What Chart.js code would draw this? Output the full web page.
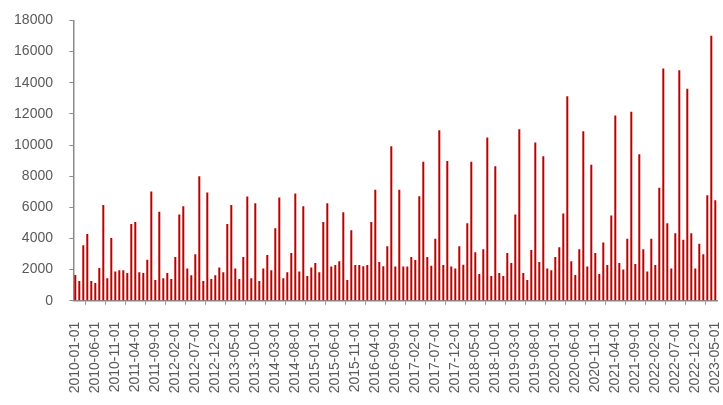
<!DOCTYPE html>
<html>
<head>
<meta charset="utf-8">
<script src="https://cdn.jsdelivr.net/npm/chart.js@4/dist/chart.umd.min.js"></script>
<style>
html,body{margin:0;padding:0;background:#fff;}
#wrap{width:723px;height:405px;}
</style>
</head>
<body>
<div id="wrap"><canvas id="c" width="723" height="405"></canvas></div>
<script>
// Categories: monthly dates 2010-01-01 .. 2023-05-01
const startYear = 2010, startMonth = 1, monthCount = 161;
const categories = [];
for (let i = 0; i < monthCount; i++) {
  const y = startYear + Math.floor((startMonth - 1 + i) / 12);
  const m = ((startMonth - 1 + i) % 12) + 1;
  categories.push(y + '-' + String(m).padStart(2, '0') + '-01');
}

// Series values
const values = [
  1650,1260,3570,4280,1260,1130,2100,6140,1450,4020,1880,1950,
  1950,1780,4920,5050,1820,1780,2630,7010,1330,5710,1450,1780,
  1390,2800,5540,6070,2070,1630,2990,8000,1260,6950,1390,1630,
  2140,1820,4920,6140,2070,1390,2800,6690,1450,6260,1260,2070,
  2930,1950,4660,6630,1450,1820,3060,6880,1880,6070,1580,2140,
  2420,1820,5050,6260,2200,2290,2540,5690,1330,4530,2290,2290,
  2220,2290,5050,7120,2480,2220,3490,9920,2200,7120,2200,2200,
  2800,2610,6710,8920,2800,2250,3980,10950,2290,8980,2200,2070,
  3490,2310,4980,8920,3120,1710,3310,10480,1580,8640,1780,1580,
  3060,2420,5540,11010,1780,1330,3250,10160,2480,9280,2070,1950,
  2800,3440,5600,13130,2540,1650,3310,10880,2200,8740,3060,1710,
  3740,2290,5470,11890,2420,2010,3980,12140,2350,9410,3310,1880,
  3980,2290,7250,14920,4980,2070,4340,14800,3910,13620,4340,2070,
  3660,2990,6780,17020,6460
];

// Axis settings
const yMin = 0, yMax = 18000, yStep = 2000;
const labelEvery = 5;

const axisGray = '#8c8c8c';
const textGray = '#595959';
const barColor = '#C00000';

new Chart(document.getElementById('c'), {
  type: 'bar',
  data: {
    labels: categories,
    datasets: [{
      data: values,
      backgroundColor: barColor,
      borderWidth: 0,
      barPercentage: 0.5,
      categoryPercentage: 1.0
    }]
  },
  options: {
    responsive: false,
    animation: false,
    events: [],
    layout: { padding: { left: 14.1, right: 5.7, top: 20.5, bottom: 11.7 } },
    plugins: { legend: { display: false }, tooltip: { enabled: false } },
    scales: {
      x: {
        offset: true,
        grid: { offset: true, drawOnChartArea: false, drawTicks: true, tickLength: 4, color: axisGray, lineWidth: 1 },
        border: { display: true, color: axisGray, width: 1.5 },
        ticks: {
          autoSkip: false,
          maxRotation: 90,
          minRotation: 90,
          padding: 17,
          color: textGray,
          font: { family: 'Liberation Sans', size: 14 },
          callback: function(val, idx) { return idx % labelEvery === 0 ? categories[idx] : null; }
        },
        afterFit: function(s) { s.height = 92.6; s.paddingLeft = 0; s.paddingRight = 0; }
      },
      y: {
        min: yMin,
        max: yMax,
        grid: { drawOnChartArea: false, drawTicks: true, tickLength: 4, color: axisGray, lineWidth: 1 },
        border: { display: true, color: axisGray, width: 1.5 },
        ticks: {
          stepSize: yStep,
          padding: 16.3,
          color: textGray,
          font: { family: 'Liberation Sans', size: 14 },
          callback: function(v) { return String(v); }
        },
        afterFit: function(s) { s.width = 59.2; s.paddingTop = 0; s.paddingBottom = 0; }
      }
    }
  }
});
</script>
</body>
</html>
